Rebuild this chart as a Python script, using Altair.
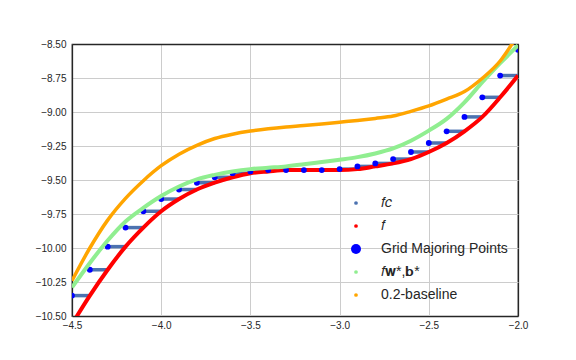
import altair as alt
import pandas as pd

# x positions of the grid (step 0.1)
x_grid = [-4.5, -4.4, -4.3, -4.2, -4.1, -4.0, -3.9, -3.8, -3.7, -3.6, -3.5, -3.4, -3.3,
          -3.2, -3.1, -3.0, -2.9, -2.8, -2.7, -2.6, -2.5, -2.4, -2.3, -2.2, -2.1, -2.0]
x_grid_end = [-4.4, -4.3, -4.2, -4.1, -4.0, -3.9, -3.8, -3.7, -3.6, -3.5, -3.4, -3.3, -3.2,
              -3.1, -3.0, -2.9, -2.8, -2.7, -2.6, -2.5, -2.4, -2.3, -2.2, -2.1, -2.0, -1.9]

# Grid Majoring Points (also the level of each f_c step)
grid_vals = [-10.35, -10.16, -9.99, -9.85, -9.73, -9.64, -9.57, -9.52, -9.48, -9.45, -9.437,
             -9.427, -9.427, -9.427, -9.427, -9.42, -9.40, -9.378, -9.346, -9.294, -9.228,
             -9.142, -9.036, -8.892, -8.732, -8.543]

# f (red)
f_vals = [-10.56, -10.35, -10.16, -9.99, -9.85, -9.73, -9.64, -9.57, -9.52, -9.48, -9.45,
          -9.437, -9.427, -9.427, -9.427, -9.427, -9.42, -9.40, -9.378, -9.346, -9.294,
          -9.228, -9.142, -9.036, -8.892, -8.732]

# f_{w*,b*} (light green)
fw_vals = [-10.29, -10.11, -9.945, -9.805, -9.705, -9.618, -9.548, -9.495, -9.462, -9.437,
           -9.42, -9.41, -9.40, -9.385, -9.368, -9.351, -9.332, -9.305, -9.268, -9.211,
           -9.137, -9.051, -8.929, -8.781, -8.641, -8.511]

# 0.2-baseline (orange)
base_vals = [-10.24, -10.00, -9.795, -9.635, -9.505, -9.395, -9.31, -9.245, -9.195, -9.163,
             -9.14, -9.123, -9.11, -9.10, -9.088, -9.075, -9.062, -9.047, -9.03, -8.995,
             -8.955, -8.905, -8.85, -8.752, -8.625, -8.43]

series_names = ["𝑓𝑐", "𝑓", "Grid Majoring Points", "𝑓𝐰*,𝐛*", "0.2-baseline"]
series_colors = ["#4c72b0", "#ff0000", "#0000ff", "#90ee90", "#ffa500"]
legend_sizes = [14, 14, 100, 14, 14]

df = pd.DataFrame({
    "x": x_grid, "x_end": x_grid_end, "grid": grid_vals,
    "f": f_vals, "fw": fw_vals, "base": base_vals,
})
legend_df = pd.DataFrame({"series": series_names})

FRAME = "#262626"
GRID = "#cccccc"

xs = alt.Scale(domain=[-4.5, -2.0], nice=False, zero=False)
ys = alt.Scale(domain=[-10.5, -8.5], nice=False, zero=False)
x_ticks = [-4.5, -4.0, -3.5, -3.0, -2.5, -2.0]
y_ticks = [-10.5, -10.25, -10.0, -9.75, -9.5, -9.25, -9.0, -8.75, -8.5]
x_axis = alt.Axis(
    values=x_ticks, format=".1f", title=None, labelPadding=4, labelFlush=False,
    gridColor={"condition": {"test": "datum.value >= -2.001", "value": FRAME}, "value": GRID},
    gridWidth={"condition": {"test": "datum.value >= -2.001", "value": 1.25}, "value": 1},
)
y_axis = alt.Axis(
    values=y_ticks, format=".2f", title=None, labelPadding=6, labelFlush=False,
    gridColor={"condition": {"test": "datum.value >= -8.501", "value": FRAME}, "value": GRID},
    gridWidth={"condition": {"test": "datum.value >= -8.501", "value": 1.25}, "value": 1},
)

X = alt.X("x:Q", scale=xs, axis=x_axis)

base = alt.Chart(df)

steps = base.mark_rule(color="#4c72b0", strokeWidth=3.5, clip=True).encode(
    x=X, x2="x_end:Q", y=alt.Y("grid:Q", scale=ys, axis=y_axis))

red = base.mark_line(color="#ff0000", strokeWidth=4, interpolate="monotone", clip=True).encode(
    x=X, y=alt.Y("f:Q", scale=ys, axis=y_axis))

dots = base.mark_circle(color="#0000ff", size=34, opacity=1, clip=True).encode(
    x=X, y=alt.Y("grid:Q", scale=ys, axis=y_axis))

green = base.mark_line(color="#90ee90", strokeWidth=4, interpolate="monotone", clip=True).encode(
    x=X, y=alt.Y("fw:Q", scale=ys, axis=y_axis))

orange = base.mark_line(color="#ffa500", strokeWidth=3.5, interpolate="monotone", clip=True).encode(
    x=X, y=alt.Y("base:Q", scale=ys, axis=y_axis))

leg = alt.Legend(title=None, orient="none", legendX=277, legendY=152, padding=0,
                 labelFont="Liberation Sans", labelFontSize=14, labelColor="#262626",
                 labelOffset=18, rowPadding=9, symbolType="circle", symbolStrokeWidth=0)

legend_layer = alt.Chart(legend_df).mark_circle(opacity=1).encode(
    color=alt.Color("series:N", scale=alt.Scale(domain=series_names, range=series_colors),
                    legend=leg, sort=series_names),
    size=alt.Size("series:N", scale=alt.Scale(type="ordinal", domain=series_names,
                                              range=legend_sizes),
                  legend=leg, sort=series_names),
).transform_filter("false")

chart = alt.layer(steps, red, dots, green, orange, legend_layer).properties(
    width=446, height=272,
    background="white",
    autosize=alt.AutoSizeParams(type="none"),
    padding={"left": 64, "top": 36, "right": 50, "bottom": 36},
).configure_view(
    stroke=FRAME, strokeWidth=1.25
).configure_axis(
    domain=True, domainColor=FRAME, domainWidth=1.25,
    ticks=False, grid=True,
    labelFont="Liberation Sans", labelFontSize=10, labelColor="#262626",
)

chart.save("out.html", embed_options={"renderer": "svg", "actions": False})
